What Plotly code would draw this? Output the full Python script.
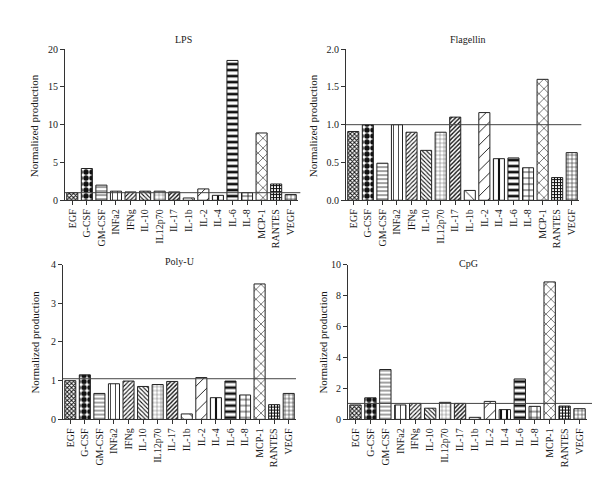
import plotly.graph_objects as go

categories = ["EGF", "G-CSF", "GM-CSF", "INFa2", "IFNg", "IL-10", "IL12p70", "IL-17",
              "IL-1b", "IL-2", "IL-4", "IL-6", "IL-8", "MCP-1", "RANTES", "VEGF"]

lps = [1.0, 4.2, 2.0, 1.2, 1.1, 1.2, 1.2, 1.1, 0.3, 1.5, 0.65, 18.5, 1.0, 8.9, 2.15, 0.75]
flagellin = [0.91, 1.0, 0.49, 1.0, 0.9, 0.66, 0.9, 1.1, 0.13, 1.16, 0.55, 0.56, 0.43, 1.6, 0.3, 0.63]
polyu = [1.0, 1.15, 0.67, 0.92, 0.99, 0.85, 0.9, 0.98, 0.14, 1.08, 0.56, 0.99, 0.63, 3.5, 0.38, 0.67]
cpg = [0.93, 1.39, 3.22, 0.93, 1.03, 0.72, 1.1, 1.03, 0.13, 1.16, 0.63, 2.61, 0.84, 8.88, 0.86, 0.69]

panel_titles = ["LPS", "Flagellin", "Poly-U", "CpG"]
reference_levels = [1.0, 1.0, 1.05, 1.03]
y_ranges = [20, 2.0, 4, 10]
y_tickvals = [[0, 5, 10, 15, 20], [0, 0.5, 1.0, 1.5, 2.0], [0, 1, 2, 3, 4], [0, 2, 4, 6, 8, 10]]
y_ticktext = [["0", "5", "10", "15", "20"], ["0.0", "0.5", "1.0", "1.5", "2.0"],
              ["0", "1", "2", "3", "4"], ["0", "2", "4", "6", "8", "10"]]
series = [lps, flagellin, polyu, cpg]

# pattern style per cytokine
pat_shape = ["x", ".", "-", "|", "/", "\\", "+", "/", "\\", "/", "|", "-", "+", "x", "+", "+"]
pat_size = [3, 6, 4, 5, 3, 3, 4, 3, 8, 9, 6, 6, 6, 7, 3, 4]
pat_solid = [0.55, 0.65, 0.2, 0.15, 0.35, 0.35, 0.15, 0.45, 0.1, 0.1, 0.35, 0.45, 0.25, 0.15, 0.6, 0.25]

W, H = 600, 482
# pixel boxes: (x_left, x_right, y_top, y_bottom)
boxes = [(57, 290, 36, 191), (338, 571, 36, 191), (55, 288, 257, 415.7), (340, 579, 257, 415.7)]
title_pos = [(175, 26), (460, 26), (172, 254), (460, 256)]
ytitle_pos = [(26, 115), (305, 115), (27, 337), (315, 337)]
line_ext = [1.01, 1.01, 1.0, 1.045]

FONT = "Liberation Serif"
TXT = "#1a1a1a"
fig = go.Figure()
layout = dict(width=W, height=H, margin=dict(l=0, r=0, t=0, b=0), autosize=False,
              paper_bgcolor="white", plot_bgcolor="white", showlegend=False,
              font=dict(family=FONT, size=10, color=TXT), bargap=0.24)
annotations = []
shapes = []
for i in range(4):
    ax = "" if i == 0 else str(i + 1)
    xl, xr, yt, yb = boxes[i]
    fig.add_trace(go.Bar(
        x=categories, y=series[i], xaxis="x" + ax, yaxis="y" + ax,
        marker=dict(color="white", line=dict(color="#222", width=1),
                    pattern=dict(shape=pat_shape, size=pat_size, solidity=pat_solid,
                                 fgcolor="#111", bgcolor="white", fillmode="replace")),
        hoverinfo="x+y"))
    layout["xaxis" + ax] = dict(domain=[xl / W, xr / W], anchor="y" + ax,
                                range=[-0.5, 15.5], showline=True, linecolor="#333", linewidth=1,
                                ticks="outside", ticklen=4, tickcolor="#333", tickangle=-90,
                                showgrid=False, zeroline=False,
                                tickfont=dict(family=FONT, size=10, color=TXT))
    layout["yaxis" + ax] = dict(domain=[1 - yb / H, 1 - yt / H], anchor="x" + ax,
                                range=[0, y_ranges[i]], tickvals=y_tickvals[i], ticktext=y_ticktext[i],
                                showline=True, linecolor="#333", linewidth=1,
                                ticks="outside", ticklen=4, tickcolor="#333",
                                showgrid=False, zeroline=False,
                                tickfont=dict(family=FONT, size=10, color=TXT))
    shapes.append(dict(type="line", xref="x" + ax + " domain", yref="y" + ax,
                       x0=0, x1=line_ext[i], y0=reference_levels[i], y1=reference_levels[i],
                       line=dict(color="#444", width=1)))
    tx, ty = title_pos[i]
    annotations.append(dict(text=panel_titles[i], x=tx / W, y=1 - ty / H, xref="paper", yref="paper",
                            showarrow=False, font=dict(family=FONT, size=10, color=TXT),
                            xanchor="center", yanchor="middle"))
    yx, yy = ytitle_pos[i]
    annotations.append(dict(text="Normalized production", x=yx / W, y=1 - yy / H, xref="paper",
                            yref="paper", showarrow=False, textangle=-90,
                            font=dict(family=FONT, size=11, color=TXT),
                            xanchor="center", yanchor="middle"))
layout["annotations"] = annotations
layout["shapes"] = shapes
fig.update_layout(**layout)
fig.write_html("out.html")
